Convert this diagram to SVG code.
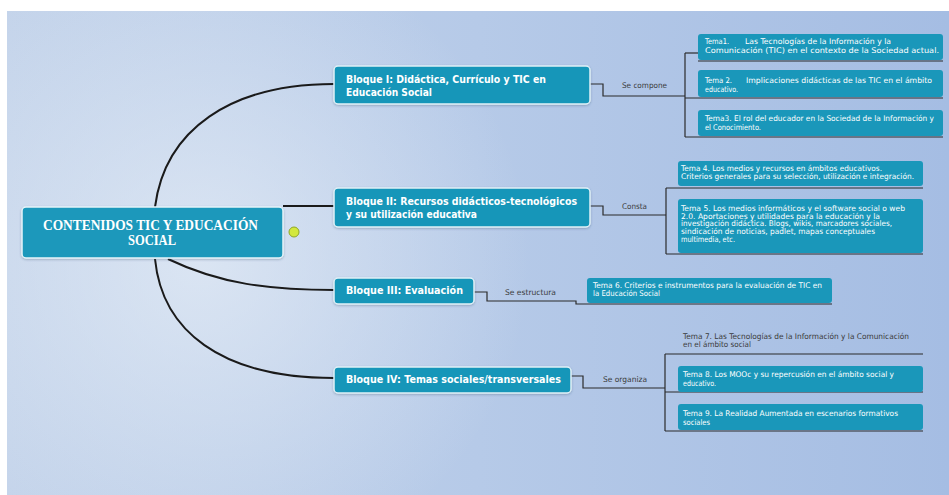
<svg xmlns="http://www.w3.org/2000/svg" width="949" height="495" viewBox="0 0 949 495">
  <defs>
    <linearGradient id="bg" x1="0" y1="0" x2="1" y2="0">
      <stop offset="0" stop-color="#c3d3ea"/>
      <stop offset="0.5" stop-color="#b6cae8"/>
      <stop offset="1" stop-color="#a5bde3"/>
    </linearGradient>
    <radialGradient id="glow" cx="200" cy="260" r="330" gradientUnits="userSpaceOnUse">
      <stop offset="0" stop-color="#e4ecf6" stop-opacity="0.75"/>
      <stop offset="1" stop-color="#e4ecf6" stop-opacity="0"/>
    </radialGradient>
    <filter id="sh" x="-5%" y="-15%" width="110%" height="140%">
      <feDropShadow dx="0" dy="1" stdDeviation="1" flood-color="#34506e" flood-opacity="0.35"/>
    </filter>
  </defs>
  <style>
    .main{fill:#1b98bb;stroke:#e6f4fa;stroke-width:1.5}
    .blk{fill:#1896b9;stroke:#e0f1f8;stroke-width:1.5}
    .tema{fill:#1a97ba}
    .ul{stroke:#2b2b2b;stroke-width:1.2;fill:none}
    .cn{stroke:#1a1a1a;stroke-width:2;fill:none}
    .el{stroke:#2b2b2b;stroke-width:1.2;fill:none}
    .ct{font-family:"Liberation Serif","Times New Roman",serif;font-weight:bold;font-size:14.5px;fill:#fff}
    .bt{font-family:"DejaVu Sans",Verdana,sans-serif;font-weight:bold;font-size:11px;fill:#fff}
    .tx{font-family:"DejaVu Sans",Verdana,sans-serif;font-size:7.8px;fill:#fff}
    .dk{font-family:"DejaVu Sans",Verdana,sans-serif;font-size:7.8px;fill:#3a3a3a}
  </style>

  <!-- canvas -->
  <rect width="949" height="495" fill="#ffffff"/>
  <rect x="7" y="11" width="942" height="484" fill="url(#bg)"/>
  <rect x="7" y="11" width="942" height="484" fill="url(#glow)"/>

  <!-- connectors -->
  <g id="connectors">
    <path class="cn" d="M155,207 C165,130 230,84 334,84"/>
    <path class="cn" d="M283,206 H334"/>
    <path class="cn" d="M168,259 C220,284 270,290 334,290"/>
    <path class="cn" d="M155,259 C162,330 220,378 334,378"/>

    <path class="el" d="M590,84 H603 V96 H685"/>
    <path class="el" d="M685,53 V137"/>
    <path class="el" d="M685,53 H698"/>
    <path class="ul" d="M698,61 H943"/>
    <path class="ul" d="M685,98 H943"/>
    <path class="ul" d="M685,137 H943"/>

    <path class="el" d="M590,206 H603 V215 H666"/>
    <path class="el" d="M666,188 V254"/>
    <path class="ul" d="M666,188 H923"/>
    <path class="ul" d="M666,254 H923"/>

    <path class="el" d="M474,292 H487 V301 H576 V304 H832"/>

    <path class="el" d="M571,376 H583 V388 H665"/>
    <path class="el" d="M665,354 V431"/>
    <path class="ul" d="M665,354 H923"/>
    <path class="ul" d="M665,392 H923"/>
    <path class="ul" d="M665,431 H923"/>

    <text class="dk" x="622" y="88" textLength="45" lengthAdjust="spacingAndGlyphs">Se compone</text>
    <text class="dk" x="622" y="209" textLength="25" lengthAdjust="spacingAndGlyphs">Consta</text>
    <text class="dk" x="505" y="295" textLength="51" lengthAdjust="spacingAndGlyphs">Se estructura</text>
    <text class="dk" x="603" y="382" textLength="44" lengthAdjust="spacingAndGlyphs">Se organiza</text>
  </g>

  <!-- central topic -->
  <g id="central">
    <rect class="main" x="22" y="207" width="261" height="51" rx="4" filter="url(#sh)"/>
    <text class="ct" x="43" y="230" textLength="215" lengthAdjust="spacingAndGlyphs">CONTENIDOS TIC Y EDUCACIÓN</text>
    <text class="ct" x="128" y="245" textLength="48" lengthAdjust="spacingAndGlyphs">SOCIAL</text>
    <circle cx="294" cy="232" r="5" fill="#d3e83e" stroke="#8fa62a" stroke-width="1"/>
  </g>

  <!-- main branches -->
  <g id="bloque1">
    <rect class="blk" x="334" y="66" width="256" height="38" rx="4" filter="url(#sh)"/>
    <text class="bt" x="346" y="83" textLength="200" lengthAdjust="spacingAndGlyphs">Bloque I: Didáctica, Currículo y TIC en</text>
    <text class="bt" x="346" y="96" textLength="86" lengthAdjust="spacingAndGlyphs">Educación Social</text>
  </g>
  <g id="bloque2">
    <rect class="blk" x="334" y="188" width="256" height="39" rx="4" filter="url(#sh)"/>
    <text class="bt" x="346" y="205" textLength="231" lengthAdjust="spacingAndGlyphs">Bloque II: Recursos didácticos-tecnológicos</text>
    <text class="bt" x="346" y="218" textLength="131" lengthAdjust="spacingAndGlyphs">y su utilización educativa</text>
  </g>
  <g id="bloque3">
    <rect class="blk" x="334" y="278" width="140" height="26" rx="4" filter="url(#sh)"/>
    <text class="bt" x="346" y="294" textLength="117" lengthAdjust="spacingAndGlyphs">Bloque III: Evaluación</text>
  </g>
  <g id="bloque4">
    <rect class="blk" x="334" y="367" width="237" height="26" rx="4" filter="url(#sh)"/>
    <text class="bt" x="346" y="383" textLength="215" lengthAdjust="spacingAndGlyphs">Bloque IV: Temas sociales/transversales</text>
  </g>

  <!-- subtopics -->
  <g id="tema1">
    <rect class="tema" x="698" y="34" width="245" height="26" rx="3"/>
    <text class="tx" x="705" y="44" textLength="24" lengthAdjust="spacingAndGlyphs">Tema1.</text>
    <text class="tx" x="745" y="44" textLength="146" lengthAdjust="spacingAndGlyphs">Las Tecnologías de la Información y la</text>
    <text class="tx" x="705" y="53" textLength="234" lengthAdjust="spacingAndGlyphs">Comunicación (TIC) en el contexto de la Sociedad actual.</text>
  </g>
  <g id="tema2">
    <rect class="tema" x="698" y="70" width="245" height="27" rx="3"/>
    <text class="tx" x="705" y="83" textLength="27" lengthAdjust="spacingAndGlyphs">Tema 2.</text>
    <text class="tx" x="746" y="83" textLength="186" lengthAdjust="spacingAndGlyphs">Implicaciones didácticas de las TIC en el ámbito</text>
    <text class="tx" x="705" y="92" textLength="33" lengthAdjust="spacingAndGlyphs">educativo.</text>
  </g>
  <g id="tema3">
    <rect class="tema" x="698" y="110" width="245" height="26" rx="3"/>
    <text class="tx" x="705" y="121" textLength="229" lengthAdjust="spacingAndGlyphs">Tema3. El rol del educador en la Sociedad de la Información y</text>
    <text class="tx" x="705" y="129.5" textLength="56" lengthAdjust="spacingAndGlyphs">el Conocimiento.</text>
  </g>
  <g id="tema4">
    <rect class="tema" x="678" y="161" width="245" height="25" rx="3"/>
    <text class="tx" x="681" y="171" textLength="201" lengthAdjust="spacingAndGlyphs">Tema 4. Los medios y recursos en ámbitos educativos.</text>
    <text class="tx" x="681" y="179" textLength="233" lengthAdjust="spacingAndGlyphs">Criterios generales para su selección, utilización e integración.</text>
  </g>
  <g id="tema5">
    <rect class="tema" x="678" y="199" width="245" height="54" rx="3"/>
    <text class="tx" x="681" y="211" textLength="224" lengthAdjust="spacingAndGlyphs">Tema 5. Los medios informáticos y el software social o web</text>
    <text class="tx" x="681" y="218.5" textLength="199" lengthAdjust="spacingAndGlyphs">2.0. Aportaciones y utilidades para la educación y la</text>
    <text class="tx" x="681" y="226" textLength="211" lengthAdjust="spacingAndGlyphs">investigación didáctica. Blogs, wikis, marcadores sociales,</text>
    <text class="tx" x="681" y="234" textLength="194" lengthAdjust="spacingAndGlyphs">sindicación de noticias, padlet, mapas conceptuales</text>
    <text class="tx" x="681" y="241.5" textLength="54" lengthAdjust="spacingAndGlyphs">multimedia, etc.</text>
  </g>
  <g id="tema6">
    <rect class="tema" x="587" y="278" width="245" height="25" rx="3"/>
    <text class="tx" x="593" y="288" textLength="229" lengthAdjust="spacingAndGlyphs">Tema 6. Criterios e instrumentos para la evaluación de TIC en</text>
    <text class="tx" x="593" y="296" textLength="67" lengthAdjust="spacingAndGlyphs">la Educación Social</text>
  </g>
  <g id="tema7">
    <text class="dk" x="683" y="338.5" textLength="226" lengthAdjust="spacingAndGlyphs">Tema 7. Las Tecnologías de la Información y la Comunicación</text>
    <text class="dk" x="683" y="347" textLength="68" lengthAdjust="spacingAndGlyphs">en el ámbito social</text>
  </g>
  <g id="tema8">
    <rect class="tema" x="678" y="366" width="245" height="26" rx="3"/>
    <text class="tx" x="683" y="377" textLength="211" lengthAdjust="spacingAndGlyphs">Tema 8. Los MOOc y su repercusión en el ámbito social y</text>
    <text class="tx" x="683" y="385.5" textLength="33" lengthAdjust="spacingAndGlyphs">educativo.</text>
  </g>
  <g id="tema9">
    <rect class="tema" x="678" y="404" width="245" height="26" rx="3"/>
    <text class="tx" x="683" y="416" textLength="215" lengthAdjust="spacingAndGlyphs">Tema 9. La Realidad Aumentada en escenarios formativos</text>
    <text class="tx" x="683" y="424.5" textLength="27" lengthAdjust="spacingAndGlyphs">sociales</text>
  </g>
</svg>
